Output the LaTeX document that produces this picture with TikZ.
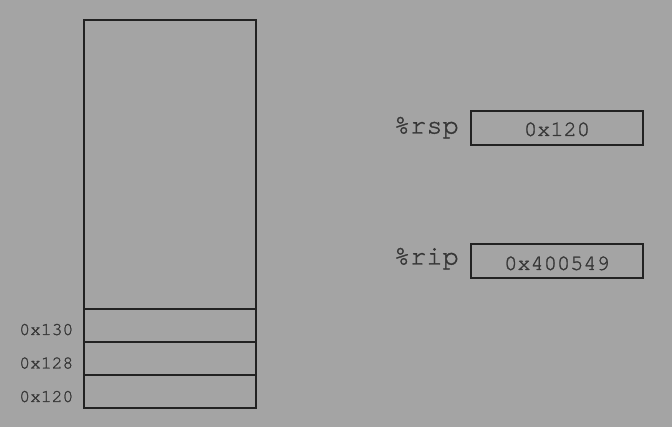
\documentclass[tikz,border=0pt]{standalone}
\usepackage{fontspec}
\newfontfamily\cur[FakeBold=1.2]{texgyrecursor-regular.otf}
\definecolor{bg}{HTML}{A4A4A4}
\definecolor{ink}{HTML}{222222}
\definecolor{txt}{HTML}{363636}
\begin{document}
\begin{tikzpicture}[x=1pt,y=-1pt,
  cell/.style={draw=ink, line width=1.7pt, inner sep=0pt, outer sep=0pt, minimum width=172pt, anchor=north west},
  regbox/.style={draw=ink, line width=1.7pt, inner sep=0pt, outer sep=0pt, minimum width=172pt, minimum height=34pt, anchor=north west},
  addr/.style={text=txt, font=\cur\fontsize{18}{20}\selectfont, inner sep=0pt, anchor=base east},
  regname/.style={text=txt, font=\cur\fontsize{27}{29}\selectfont, inner sep=0pt, anchor=base east},
  regval/.style={text=txt, font=\cur\fontsize{22}{24}\selectfont, inner sep=0pt, anchor=base}]
\fill[bg] (0,0) rectangle (672,427);
\useasboundingbox (0,0) rectangle (672,427);
% stack
\node[cell, minimum height=289pt] (top) at (84,20) {};
\node[cell, minimum height=33pt] (c130) at (84,309) {};
\node[cell, minimum height=33pt] (c128) at (84,342) {};
\node[cell, minimum height=33pt] (c120) at (84,375) {};
% addresses
\node[addr] (l130) at (73.5,335) {0x130};
\node[addr] (l128) at (73.5,368.5) {0x128};
\node[addr] (l120) at (73.5,402) {0x120};
% registers
\node[regname] (nrsp) at (459,133.5) {\%rsp};
\node[regbox] (brsp) at (471,111) {};
\node[regval] (vrsp) at (557,136) {0x120};
\node[regname] (nrip) at (459,264.5) {\%rip};
\node[regbox] (brip) at (471,244) {};
\node[regval] (vrip) at (557,270) {0x400549};
\end{tikzpicture}
\end{document}
